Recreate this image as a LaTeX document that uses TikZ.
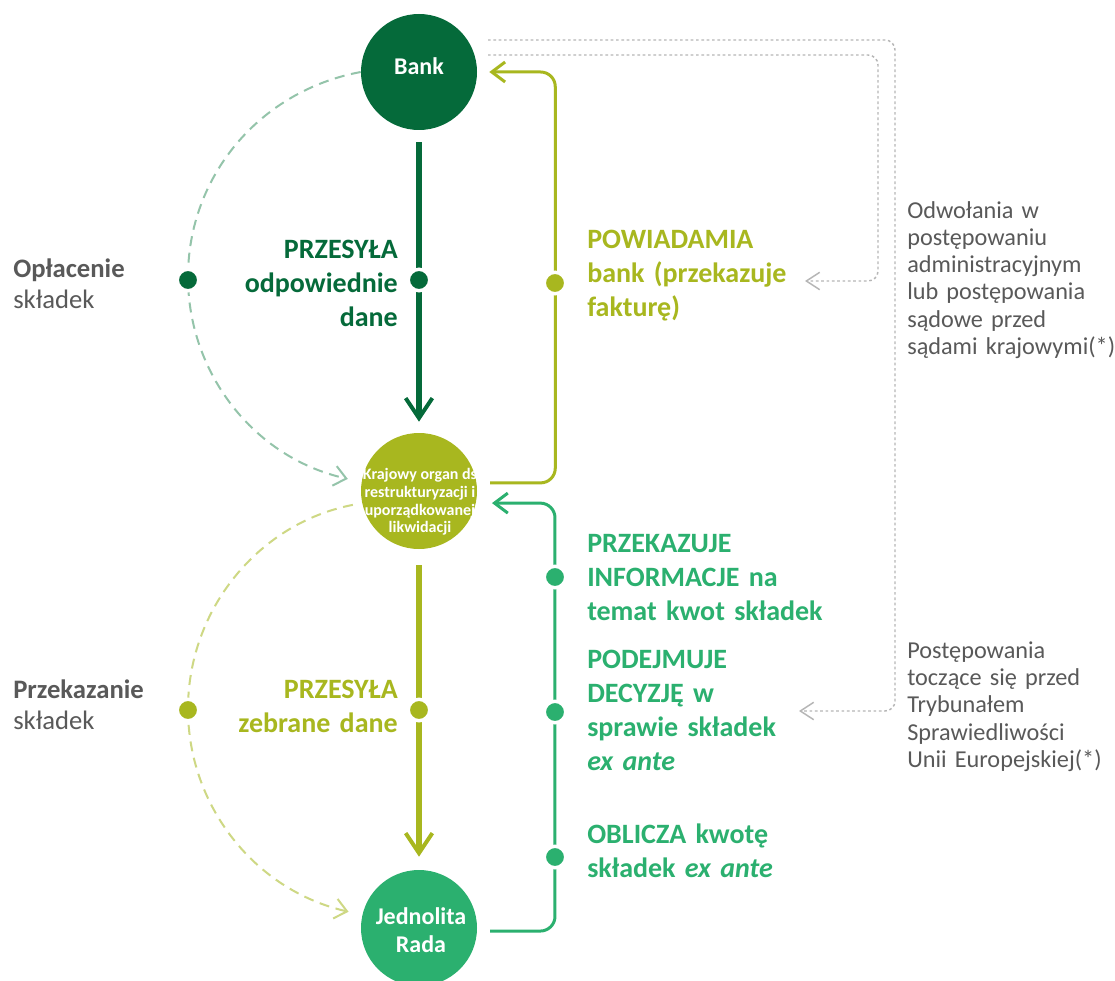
\documentclass[tikz,border=0pt]{standalone}
\usepackage{fontspec}
\setmainfont{Carlito}
\newfontfamily\greyfont[WordSpace=0.85]{Carlito}
\usetikzlibrary{arrows.meta,calc}
\definecolor{dkgreen}{RGB}{5,106,58}
\definecolor{olive}{RGB}{168,183,31}
\definecolor{mdgreen}{RGB}{43,176,111}
\definecolor{tealdash}{RGB}{148,196,170}
\definecolor{olivedash}{RGB}{206,216,132}
\definecolor{greytxt}{RGB}{89,89,89}
\definecolor{dotgrey}{RGB}{182,182,182}
\begin{document}
\begin{tikzpicture}[x=0.75pt,y=-0.75pt,
  circ/.style={circle,minimum size=87pt,inner sep=0pt},
  ctext/.style={text=white,font=\bfseries\fontsize{18}{21}\selectfont,align=center,inner sep=0pt},
  dotnode/.style={circle,fill=#1,draw=white,line width=2.6pt,minimum size=16.1pt,inner sep=0pt},
  lbl/.style={font=\bfseries\fontsize{21}{25.5}\selectfont,inner sep=0pt,text width=240pt},
  glbl/.style={text=greytxt,font=\fontsize{20}{23.25}\selectfont,inner sep=0pt,text width=150pt,align=left,anchor=base west},
  rlbl/.style={text=greytxt,font=\greyfont\fontsize{18.2}{20.5}\selectfont,inner sep=0pt,text width=220pt,align=left,anchor=base west},
  bigarrow/.style={line width=4.5pt,-{Straight Barb[length=15pt,width=20pt,line width=3pt]}},
  sidearrow/.style={line width=2.25pt,rounded corners=11pt,-{Straight Barb[length=10pt,width=15pt]}},
  arcarrow/.style={line width=1.5pt,dash pattern=on 7.5pt off 5pt,-{Straight Barb[length=9pt,width=15pt]}},
  dotline/.style={draw=dotgrey,line width=1.1pt,dash pattern=on 2pt off 2pt,rounded corners=7.5pt,-{Straight Barb[length=10pt,width=13pt]}}
]
\useasboundingbox (0,0) rectangle (1115,981);
\fill[white] (0,0) rectangle (1115,981);
\begin{scope}
\clip (0,0) rectangle (1115,981);
% circles
\node[circ,fill=dkgreen] (bank) at (419,72) {};
\node[circ,fill=olive] (kraj) at (419,491) {};
\node[circ,fill=mdgreen] (jed) at (419,928) {};
\end{scope}
\node[ctext] (banktxt) at (419,66) {Bank};
\node[ctext,font=\bfseries\fontsize{12}{13.2}\selectfont] (krajtxt) at (420,502) {Krajowy organ ds\\restrukturyzacji i\\uporządkowanej\\likwidacji};
\node[ctext] (jedtxt) at (421,930) {Jednolita\\Rada};

% dotted grey connectors
\coordinate (p1s) at (488,40);
\coordinate (p1e) at (799,711);
\coordinate (p2s) at (488,55);
\coordinate (p2e) at (805,281);
\draw[dotline] (p1s) -- (895,40) -- (895,711) -- (p1e);
\draw[dotline] (p2s) -- (878,55) -- (878,281) -- (p2e);

% main vertical arrows
\draw[bigarrow,dkgreen,shorten <=9pt,shorten >=8.25pt] (bank.south) -- (kraj.north);
\draw[bigarrow,olive,shorten <=12pt,shorten >=9.75pt] (kraj.south) -- (jed.north);

% side connectors
\draw[sidearrow,olive,shorten <=10pt,shorten >=9pt] (kraj.8) -| ($(bank.east)+(78,0)$) -- (bank.east);
\draw[sidearrow,mdgreen,shorten <=9.75pt,shorten >=12pt] (jed.357) -| ($(kraj.348)+(79,0)$) -- (kraj.348);

% dashed arcs
\draw[arcarrow,tealdash,shorten >=10.5pt] (bank.west) .. controls (259,91) and (188,177) .. (188,277) .. controls (188,373) and (254,458) .. (kraj.171);
\draw[arcarrow,olivedash,shorten <=7pt,shorten >=10.5pt] (kraj.192) .. controls (259,523) and (188,609) .. (188,709) .. controls (188,805) and (254,890) .. (jed.167.5);

% dots
\node[dotnode=dkgreen] (d0) at (188,280) {};
\node[dotnode=dkgreen] (d1) at (419,280) {};
\node[dotnode=olive] (d2) at (555,283) {};
\node[dotnode=olive] (d3) at (419,710) {};
\node[dotnode=olive] (d4) at (188,710) {};
\node[dotnode=mdgreen] (d5) at (555,577) {};
\node[dotnode=mdgreen] (d6) at (555,712) {};
\node[dotnode=mdgreen] (d7) at (555,857) {};

% labels
\node[lbl,text=dkgreen,align=right,anchor=base east] (l1) at (398,258) {PRZESYŁA\\odpowiednie\\dane};
\node[lbl,text=olive,align=right,anchor=base east] (l2) at (398,698) {PRZESYŁA\\zebrane dane};
\node[lbl,text=olive,align=left,anchor=base west] (l3) at (587,248) {POWIADAMIA\\bank (przekazuje\\fakturę)};
\node[lbl,text=mdgreen,align=left,anchor=base west] (l4) at (587,552) {PRZEKAZUJE\\INFORMACJE na\\temat kwot składek};
\node[lbl,text=mdgreen,align=left,anchor=base west] (l5) at (587,668) {PODEJMUJE\\DECYZJĘ w\\sprawie składek\\\textit{ex ante}};
\node[lbl,text=mdgreen,align=left,anchor=base west] (l6) at (587,843) {OBLICZA kwotę\\składek \textit{ex ante}};

\node[glbl] (g1) at (13,277) {\textbf{Opłacenie}\\składek};
\node[glbl] (g2) at (13,698) {\textbf{Przekazanie}\\składek};

\node[rlbl] (r1) at (907,218) {Odwołania w\\postępowaniu\\administracyjnym\\lub postępowania\\sądowe przed\\sądami krajowymi(*)};
\node[rlbl] (r2) at (907,658) {Postępowania\\toczące się przed\\Trybunałem\\Sprawiedliwości\\Unii Europejskiej(*)};
\end{tikzpicture}
\end{document}
